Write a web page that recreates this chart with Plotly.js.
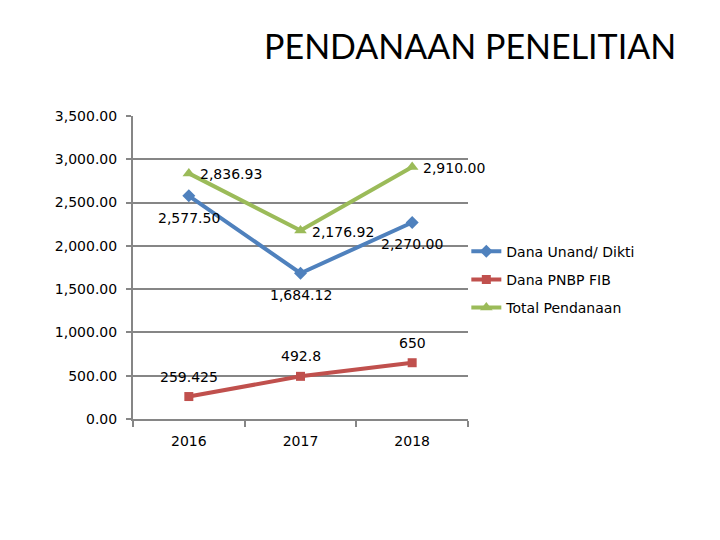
<!DOCTYPE html>
<html>
<head>
<meta charset="utf-8">
<script src="https://cdn.plot.ly/plotly-3.0.1.min.js"></script>
<style>
  html, body { margin: 0; padding: 0; background: #fff; }
  #chart { width: 720px; height: 540px; }
</style>
</head>
<body>
<div id="chart"></div>
<script>
const years = ['2016', '2017', '2018'];
const danaUnand = [2577.50, 1684.12, 2270.00];
const danaPnbp = [259.425, 492.8, 650];
const totalPendanaan = [2836.93, 2176.92, 2910.00];

const fmt2 = v => v.toLocaleString('en-US', { minimumFractionDigits: 2, maximumFractionDigits: 2 });
const labelFont = () => ({ family: 'DejaVu Sans, Verdana, sans-serif', size: 14, color: '#000' });

function series(name, y, color, symbol, size, group) {
  return {
    x: years, y: y, name: name, legendgroup: group,
    type: 'scatter', mode: 'lines+markers',
    line: { color: color, width: 4 },
    marker: { symbol: symbol, size: size, color: color },
    cliponaxis: false
  };
}

const traces = [
  series('Dana Unand/ Dikti', danaUnand, '#4F81BD', 'diamond', 10, 'a'),
  series('Dana PNBP FIB', danaPnbp, '#C0504D', 'square', 9, 'b'),
  series('Total Pendanaan', totalPendanaan, '#9BBB59', 'triangle-up', 11, 'c')
];

// data labels, placed like the original
const annotations = [];
years.forEach((yr, i) => {
  annotations.push({ xref: 'x', yref: 'y', x: i, y: danaUnand[i], text: fmt2(danaUnand[i]),
    showarrow: false, xanchor: 'center', yanchor: 'middle', yshift: -22, font: labelFont() });
  annotations.push({ xref: 'x', yref: 'y', x: i, y: danaPnbp[i], text: String(danaPnbp[i]),
    showarrow: false, xanchor: 'center', yanchor: 'middle', yshift: 20, font: labelFont() });
  annotations.push({ xref: 'x', yref: 'y', x: i, y: totalPendanaan[i], text: fmt2(totalPendanaan[i]),
    showarrow: false, xanchor: 'left', yanchor: 'middle', xshift: 9, yshift: -1, font: labelFont() });
});

const layout = {
  width: 720, height: 540,
  paper_bgcolor: '#fff', plot_bgcolor: '#fff',
  margin: { l: 133, r: 252, t: 116, b: 121 },
  title: {
    text: 'PENDANAAN PENELITIAN',
    font: { family: 'Lato, Calibri, sans-serif', size: 34, color: '#000' },
    x: 0.653, xanchor: 'center', y: 0.913, yanchor: 'middle'
  },
  xaxis: {
    type: 'category', range: [-0.5, 2.5],
    tickson: 'boundaries', ticks: 'outside', ticklen: 6, tickwidth: 2, tickcolor: '#868686',
    showline: true, linecolor: '#868686', linewidth: 2,
    showgrid: false, zeroline: false, ticklabelstandoff: 8,
    tickfont: labelFont()
  },
  yaxis: {
    range: [0, 3500], dtick: 500, tickformat: ',.2f',
    ticks: 'outside', ticklen: 5, tickwidth: 2, tickcolor: '#868686',
    showline: true, linecolor: '#868686', linewidth: 2,
    showgrid: true, gridcolor: '#868686', gridwidth: 2, zeroline: false,
    ticklabelstandoff: 6,
    tickfont: labelFont()
  },
  annotations: annotations,
  showlegend: true,
  legend: {
    x: 0.995, xanchor: 'left', y: 0.46, yanchor: 'middle',
    traceorder: 'grouped', tracegroupgap: 7,
    font: labelFont(), bgcolor: 'rgba(0,0,0,0)', itemwidth: 30
  }
};

Plotly.newPlot('chart', traces, layout, { displayModeBar: false, staticPlot: true });
</script>
</body>
</html>
